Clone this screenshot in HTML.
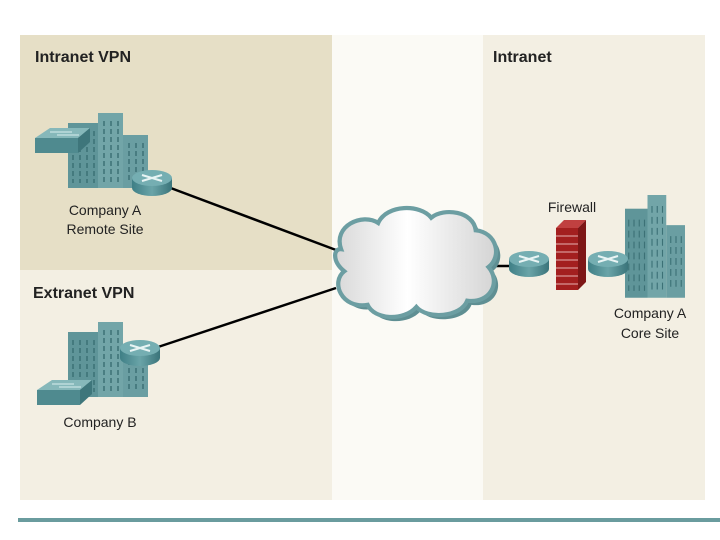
<!DOCTYPE html>
<html><head><style>body{margin:0;background:#fff}svg{display:block}text{font-family:"Liberation Sans",sans-serif}</style></head><body>
<svg width="720" height="540" viewBox="0 0 720 540" xmlns="http://www.w3.org/2000/svg">
<defs>
<linearGradient id="cg" x1="0" x2="1"><stop offset="0" stop-color="#d8d8d8"/><stop offset="0.45" stop-color="#ffffff"/><stop offset="1" stop-color="#d4d4d4"/></linearGradient>
<linearGradient id="rg" x1="0" x2="1"><stop offset="0" stop-color="#3f7f86"/><stop offset="0.5" stop-color="#6aa4a8"/><stop offset="1" stop-color="#3a747a"/></linearGradient>
<g id="bld">
<rect x="0" y="10" width="30" height="65" fill="#5f9599"/>
<rect x="30" y="0" width="25" height="75" fill="#72a5a8"/>
<rect x="55" y="22" width="25" height="53" fill="#6a9ea2"/>
<g stroke="#3c7176" stroke-width="1.5">
<path d="M5 18v52M12 18v52M19 18v52M26 18v52M36 8v62M43 8v62M50 8v62M61 30v40M68 30v40M75 30v40" stroke-dasharray="5 3"/>
</g>
</g>
<g id="rt">
<path d="M-20 0v10a20 8 0 0 0 40 0v-10z" fill="url(#rg)"/>
<ellipse cx="0" cy="0" rx="20" ry="8" fill="#75aeb2"/>
<path d="M-10 -3l20 6M-10 3l20 -6" stroke="#e8f4f4" stroke-width="2"/>
</g>
<g id="sw">
<path d="M0 10l15-10h40l-12 10z" fill="#86b8ba"/>
<path d="M0 10h43v15h-43z" fill="#4f8a8f"/>
<path d="M43 10l12-10v14l-12 11z" fill="#3e767b"/>
<path d="M15 4h22M22 7h22" stroke="#d8eeee" stroke-width="1"/>
</g>
</defs>
<rect x="20" y="35" width="312" height="235" fill="#e6dfc6"/>
<rect x="20" y="270" width="312" height="230" fill="#f3efe3"/>
<rect x="332" y="35" width="151" height="465" fill="#fbfaf5"/>
<rect x="483" y="35" width="222" height="465" fill="#f3efe3"/>
<rect x="18" y="518" width="702" height="4" fill="#6a9c9e"/>
<text x="35" y="62" font-size="16" font-weight="bold" fill="#222">Intranet VPN</text>
<text x="33" y="298" font-size="16" font-weight="bold" fill="#222">Extranet VPN</text>
<text x="493" y="62" font-size="16" font-weight="bold" fill="#222">Intranet</text>
<line x1="168" y1="187" x2="336" y2="250" stroke="#000" stroke-width="2.5"/>
<line x1="158" y1="347" x2="336" y2="288" stroke="#000" stroke-width="2.5"/>
<line x1="488" y1="266" x2="512" y2="266" stroke="#000" stroke-width="2.5"/>
<use href="#bld" x="68" y="113"/>
<use href="#sw" x="35" y="128"/>
<use href="#rt" x="152" y="178"/>
<text x="105" y="215" font-size="14" text-anchor="middle" fill="#222">Company A</text>
<text x="105" y="234" font-size="14" text-anchor="middle" fill="#222">Remote Site</text>
<use href="#bld" x="68" y="322"/>
<use href="#rt" x="140" y="348"/>
<use href="#sw" x="37" y="380"/>
<text x="100" y="427" font-size="14" text-anchor="middle" fill="#222">Company B</text>
<g transform="translate(410,266) scale(1.06,1.05) translate(-410,-266)">
<path d="M345 250c-8-22 20-35 35-25c8-18 40-18 50-5c12-10 40-6 42 12c20 2 25 25 12 35c12 14 2 35-20 32c-6 16-38 18-48 6c-12 14-40 12-46-2c-25 4-35-22-22-32c-12-10-10-22-3-21z" fill="#5f8f93" transform="translate(4,4)"/>
<path d="M345 250c-8-22 20-35 35-25c8-18 40-18 50-5c12-10 40-6 42 12c20 2 25 25 12 35c12 14 2 35-20 32c-6 16-38 18-48 6c-12 14-40 12-46-2c-25 4-35-22-22-32c-12-10-10-22-3-21z" fill="url(#cg)" stroke="#6c9ea2" stroke-width="4"/>
</g>
<text x="572" y="212" font-size="14" text-anchor="middle" fill="#222">Firewall</text>
<g transform="translate(625,195) scale(0.75,1.37)"><use href="#bld"/></g>
<use href="#rt" x="529" y="259"/>
<g>
<path d="M556 228l8-8h22l-8 8z" fill="#c04040"/>
<rect x="556" y="228" width="22" height="62" fill="#a31f1f"/>
<path d="M578 228l8-8v62l-8 8z" fill="#7d1616"/>
<g stroke="#e6b0b0" stroke-width="1"><path d="M556 236h22M556 244h22M556 252h22M556 260h22M556 268h22M556 276h22M556 284h22"/></g>
</g>
<use href="#rt" x="608" y="259"/>
<text x="650" y="318" font-size="14" text-anchor="middle" fill="#222">Company A</text>
<text x="650" y="338" font-size="14" text-anchor="middle" fill="#222">Core Site</text>
</svg>
</body></html>
